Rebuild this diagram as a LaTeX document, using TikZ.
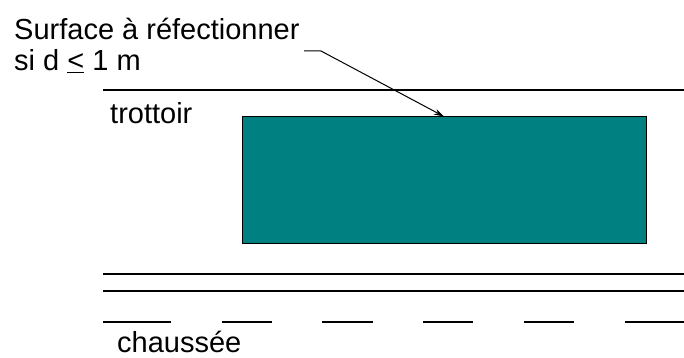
\documentclass[tikz,border=0pt]{standalone}
\usepackage{fontspec}
\setmainfont{Liberation Sans}
\usetikzlibrary{arrows.meta}
\definecolor{sarcelle}{RGB}{0,128,128}
\begin{document}
\begin{tikzpicture}[x=1pt,y=-1pt,>={Stealth[length=10pt,width=6pt]},
	txt/.style={inner sep=0pt,font=\fontsize{29}{31}\selectfont},
	trait/.style={line width=1.2pt}]
		\useasboundingbox (0,0) rectangle (684,358);
		\node[txt,anchor=north west,align=left] (label) at (14,18) {Surface à réfectionner\\si d \underline{<} 1 m};
		\node[txt,anchor=base west] (trottoir) at (110,124) {trottoir};
		\node[txt,anchor=base west] (chaussee) at (117,352) {chaussée};
		\node[draw=black,line width=1pt,fill=sarcelle,minimum width=404pt,minimum height=126pt,inner sep=0pt] (surf) at (444,180) {};
		\coordinate (lead) at (304,51);
		\coordinate (bend) at (321,51);
		\draw[->,line width=1pt] (lead)--(bend)--(surf.north);
		\draw[trait] (103,90)--(684,90);
		\draw[trait] (103,274)--(684,274);
		\draw[trait] (103,291)--(684,291);
		\foreach \a/\b in {103/171,222/272,322/373,423/473,524/574,625/684}
			\draw[trait] (\a,322)--(\b,322);
\end{tikzpicture}
\end{document}
